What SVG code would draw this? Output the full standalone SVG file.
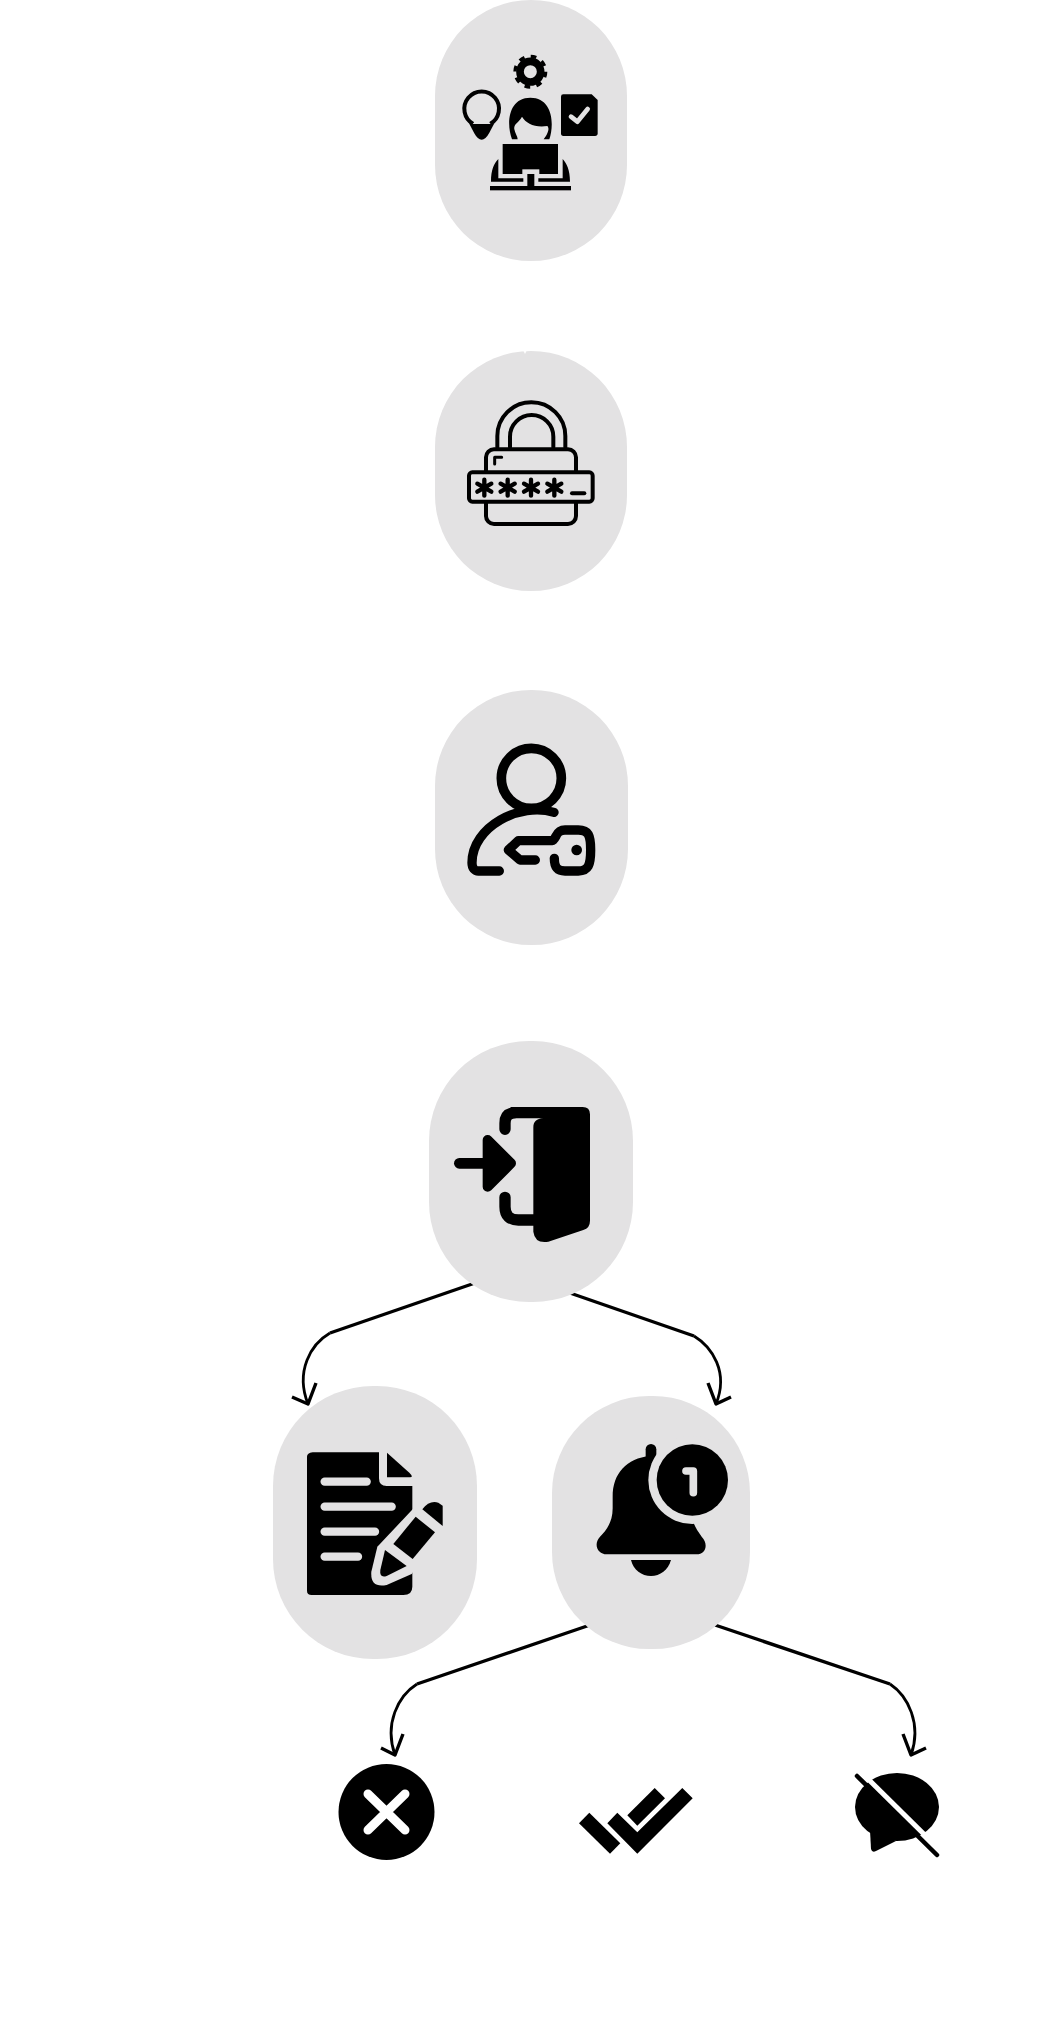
<svg xmlns="http://www.w3.org/2000/svg" width="1053" height="2037" viewBox="0 0 1053 2037">
<style>
.pill{fill:#e3e2e3}
.k{fill:#000}
.g{fill:#e3e2e3}
.ln{fill:none;stroke:#000;stroke-width:3.4;stroke-linejoin:round}
.cv{fill:none;stroke:#000;stroke-width:2.8}
.sk{fill:none;stroke:#000;stroke-linecap:round;stroke-linejoin:round}
.sg{fill:none;stroke:#e3e2e3;stroke-linecap:round;stroke-linejoin:round}
</style>
<rect width="1053" height="2037" fill="#fff"/>
<g id="connectors">
<path class="ln" d="M475 1283L330 1333"/><path class="cv" d="M330 1333C311 1344 295 1371 308 1404"/><path class="ln" d="M292 1397L308 1404L316 1383"/>
<path class="ln" d="M570 1293L694 1336"/><path class="cv" d="M694 1336C712 1347 729 1372 716 1404"/><path class="ln" d="M708 1383L716 1404L731 1397"/>
<path class="ln" d="M590 1625L417 1684"/><path class="cv" d="M417 1684C398 1696 384 1724 395 1755"/><path class="ln" d="M381 1748L395 1755L403 1734"/>
<path class="ln" d="M715 1625L890 1684"/><path class="cv" d="M890 1684C908 1696 922 1724 911 1755"/><path class="ln" d="M903 1734L911 1755L926 1748"/>
</g>

<g id="node-developer">
<rect class="pill" x="435" y="0" width="192" height="261" rx="96" ry="96"/>
<g transform="translate(420 0) scale(.33333)">
<circle cx="331" cy="215" r="31" fill="none" stroke="#000" stroke-width="23"/>
<circle cx="331" cy="215" r="46" fill="none" stroke="#000" stroke-width="10" stroke-dasharray="17 19.1"/>
<path d="M160 372A52 52 0 1 1 210 372" fill="none" stroke="#000" stroke-width="12"/>
<path class="k" d="M147 370H223L208 398Q185 440 162 398Z"/>
<path class="g" d="M163 366H207L212 372H158Z"/>
<path class="k" d="M276 418C258 370 265 293 331 293C397 293 404 370 388 418H371C390 392 386 382 382 378C345 384 318 370 306 350C296 368 280 372 283 388C285 400 293 410 293 418Z"/>
<path class="k" d="M430 283H515L533 300V400Q533 408 525 408H430Q423 408 423 400V290Q423 283 430 283Z"/>
<path class="sg" d="M453 350L472 365L503 327" stroke-width="14"/>
<path class="k" d="M213 545C213 510 222 490 235 477V535H310V545ZM450 545C450 510 440 490 428 477V535H355V545Z"/>
<rect class="k" x="248" y="432" width="166" height="90"/>
<rect class="g" x="307" y="508" width="51" height="14"/>
<rect class="k" x="322" y="522" width="21" height="37"/>
<rect class="k" x="210" y="558" width="243" height="13"/>
</g>
</g>

<g id="node-password">
<rect class="pill" x="435" y="351" width="192" height="240" rx="96" ry="96"/>
<path d="M523.5 351L525 354L526.5 351Z" fill="#fff"/>
<g transform="translate(420 340) scale(.33333)">
<path class="sk" stroke-width="12" d="M232 322V288A102 101 0 0 1 436 288V322" stroke-linecap="butt"/>
<path class="sk" stroke-width="12" d="M270 322V290A65 65 0 0 1 400 290V322" stroke-linecap="butt"/>
<rect x="198" y="328" width="270" height="224" rx="24" fill="none" stroke="#000" stroke-width="12"/>
<rect x="147" y="397" width="371" height="88" rx="10" fill="#e3e2e3" stroke="#000" stroke-width="12"/>
<path class="sk" stroke-width="9" d="M224 372V352H245" stroke-linecap="butt"/>
<g class="sk" stroke-width="13" stroke-linecap="butt">
<path d="M193 419V467M172 431L214 455M214 431L172 455"/>
<path d="M263 419V467M242 431L284 455M284 431L242 455"/>
<path d="M333 419V467M312 431L354 455M354 431L312 455"/>
<path d="M403 419V467M382 431L424 455M424 431L382 455"/>
</g>
<path class="sk" stroke-width="12" d="M456 460H493"/>
</g>
</g>

<g id="node-user-key">
<rect class="pill" x="435" y="690" width="193" height="255" rx="96" ry="96"/>
<g transform="translate(420 680) scale(.33333)">
<circle cx="334" cy="295" r="90" fill="none" stroke="#000" stroke-width="29"/>
<path class="sk" stroke-width="28" d="M402 397C300 365 156 440 156 548C156 565 165 573 175 573H238"/>
<path class="sk" stroke-width="28" d="M346 540H300L265 510L295 482H395C410 480 405 450 435 450H475C505 450 512 465 512 510C512 555 505 573 475 573H435C410 573 403 560 403 535"/>
<circle class="k" cx="470" cy="510" r="16"/>
</g>
</g>

<g id="node-login">
<rect class="pill" x="429" y="1041" width="204" height="261" rx="100" ry="100"/>
<g transform="translate(420 1030) scale(.33333)">
<path class="sk" stroke-width="34" d="M255 298V280C255 258 265 248 290 248H370"/>
<path class="sk" stroke-width="34" d="M255 502V530C255 558 270 570 295 570H350"/>
<path class="k" d="M340 292C340 275 350 266 370 264L360 231H488Q510 231 510 253V572Q510 594 490 600L385 635Q345 642 340 605Z"/>
<path class="k" d="M272 231H370V262Q300 262 272 266Z"/>
<path class="sk" stroke-width="32" d="M118 400H205"/>
<path d="M203 330L273 400L203 470Z" fill="#000" stroke="#000" stroke-width="30" stroke-linejoin="round"/>
</g>
</g>

<g id="node-document">
<rect class="pill" x="273" y="1386" width="204" height="273" rx="100" ry="100"/>
<g transform="translate(270 1270) scale(.33333)">
<path class="k" d="M128 547H327V625Q327 648 350 648H427V950Q427 975 400 975H125Q111 975 111 962V560Q111 549 128 547Z"/>
<path class="k" d="M351 548L418 608Q432 622 420 622H351Z"/>
<g class="sg" stroke-width="25"><path d="M164 635H290"/><path d="M164 710H365"/><path d="M164 785H315"/><path d="M164 860H264"/></g>
<path class="g" d="M322 830L445 700L530 770L425 912L350 945Q300 955 304 905Z"/>
<path class="k" d="M457 718Q478 690 505 698L518 707V768Z"/>
<path class="k" d="M370 822L437 740L495 787L428 867Z"/>
<path class="k" d="M345 840L410 888L350 918Q328 925 331 900Z"/>
</g>
</g>

<g id="node-notification">
<rect class="pill" x="552" y="1396" width="198" height="253" rx="97" ry="97"/>
<g transform="translate(270 1270) scale(.33333)">
<path class="sk" stroke-width="32" d="M1143 538V562"/>
<path class="k" d="M1140 558C1070 565 1028 610 1028 680V715C1028 760 1005 785 990 800C968 825 985 853 1010 853H1280C1305 853 1318 825 1295 800C1285 785 1275 775 1265 740L1160 600Z"/>
<path class="k" d="M1083 870H1203C1195 900 1170 918 1143 918C1115 918 1090 900 1083 870Z"/>
<circle class="g" cx="1267" cy="630" r="132"/>
<circle class="k" cx="1267" cy="630" r="107"/>
<path class="sg" stroke-width="23" d="M1248 603H1270V668"/>
</g>
</g>

<g id="node-reject">
<circle class="k" cx="386.5" cy="1812" r="48"/>
<path class="sg" style="stroke:#fff" stroke-width="9" d="M368 1794L405 1830M405 1794L368 1830"/>
</g>

<g id="node-read">
<path class="k" d="M579 1823.3L589.3 1812.7L620.3 1843.3L610 1853.7Z"/>
<path class="k" d="M607.3 1823.3L617.3 1812.7L637.3 1832.3L682.3 1788L692.7 1798.3L637.3 1853.7Z"/>
<path class="k" d="M627.3 1815.3L654.7 1788L665 1798.3L637.3 1825.7Z"/>
</g>

<g id="node-muted">
<ellipse class="k" cx="897" cy="1807" rx="42" ry="34"/>
<path class="k" d="M870 1830L871 1849Q872 1853 876 1851L896 1841Z"/>
<path d="M861 1772L941 1851" fill="none" stroke="#fff" stroke-width="5"/>
<path class="sk" stroke-width="4.5" d="M857 1776L937 1855"/>
</g>
</svg>
